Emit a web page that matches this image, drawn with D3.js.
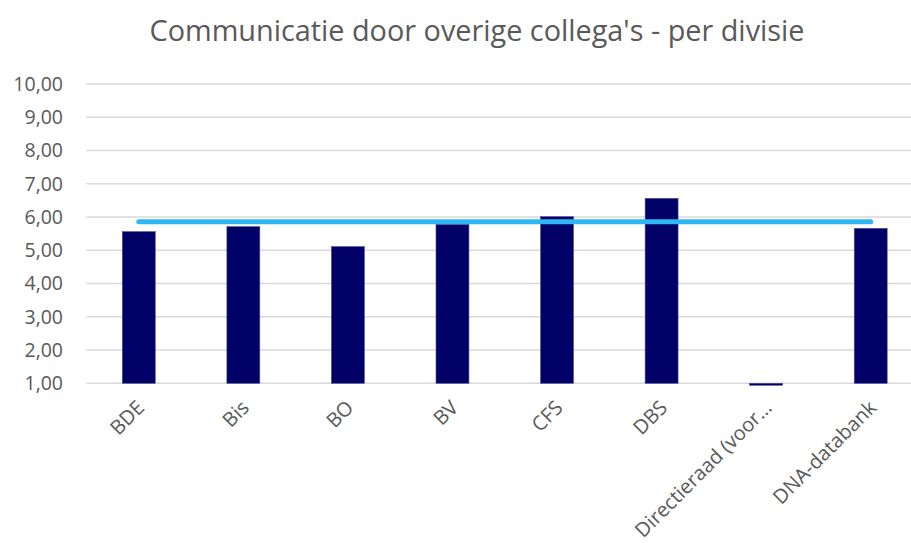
<!DOCTYPE html>
<html><head><meta charset="utf-8">
<script src="https://cdn.jsdelivr.net/npm/d3@7"></script>
<style>body{margin:0;background:#fff}svg{display:block}</style>
</head><body><svg id="c" width="911" height="543"></svg>
<script>
const categories = ["BDE","Bis","BO","BV","CFS","DBS","Directieraad (voor…","DNA-databank"];
const values = [5.56,5.71,5.11,5.78,6.01,6.56,0.94,5.66];
const average = [5.86,5.86,5.86,5.86,5.86,5.86,5.86,5.86];
const yTicks = [1,2,3,4,5,6,7,8,9,10];
const title = "Communicatie door overige collega's - per divisie";

const svg = d3.select("#c");
const font = "'Open Sans',sans-serif";
const x = d3.scaleBand().domain(categories).range([86.5, 923]).padding(0);
const y = d3.scaleLinear().domain([1,10]).range([383.3, 84]);
const barW = x.bandwidth()*0.315;

svg.append("text").attr("x", 477).attr("y", 41).attr("text-anchor","middle")
  .attr("font-family", font).attr("font-size", 29).attr("fill","#595959")
  .attr("textLength", 655).attr("lengthAdjust","spacingAndGlyphs").text(title);

svg.append("g").selectAll("line").data(yTicks).join("line")
  .attr("x1", 86.5).attr("x2", 911).attr("y1", d=>y(d)).attr("y2", d=>y(d))
  .attr("stroke","#d9d9d9").attr("stroke-width",1.5);

svg.append("g").selectAll("text").data(yTicks).join("text")
  .attr("x", 63).attr("y", d=>y(d)).attr("dy","0.35em").attr("text-anchor","end")
  .attr("font-family", font).attr("font-size", 19.5).attr("fill","#595959")
  .text(d=>d3.format(".2f")(d).replace(".",","));

svg.append("g").selectAll("rect").data(values).join("rect")
  .attr("x",(d,i)=>x(categories[i])+x.bandwidth()/2-barW/2)
  .attr("width",barW)
  .attr("y",d=>Math.min(y(d),y(1)))
  .attr("height",d=>Math.abs(y(1)-y(d)))
  .attr("fill","#000066").attr("stroke","#4a4a9a").attr("stroke-width",0.6);

const line = d3.line().x((d,i)=>x(categories[i])+x.bandwidth()/2).y(d=>y(d));
svg.append("path").datum(average).attr("d",line).attr("fill","none")
  .attr("stroke","#2fb6f4").attr("stroke-width",5).attr("stroke-linecap","round");

svg.append("g").selectAll("text").data(categories).join("text")
  .attr("transform",d=>`translate(${x(d)+x.bandwidth()/2+2},${404}) rotate(-45)`)
  .attr("text-anchor","end").attr("dy","0.35em")
  .attr("font-family", font).attr("font-size", 20).attr("fill","#595959").text(d=>d);
</script></body></html>
